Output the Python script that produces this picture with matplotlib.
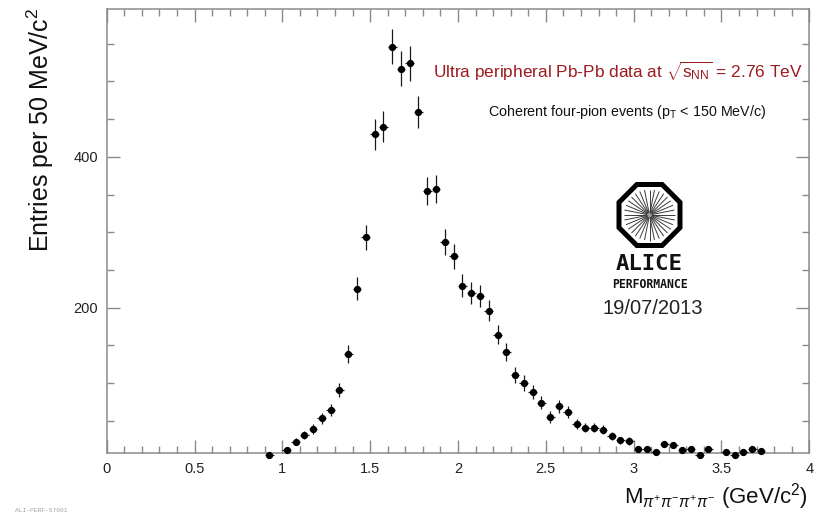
import numpy as np
import matplotlib
matplotlib.use("Agg")
import matplotlib.pyplot as plt
from matplotlib.patches import Polygon, Circle
from matplotlib.ticker import MultipleLocator, FuncFormatter

plt.rcParams['font.family'] = ['Liberation Sans', 'DejaVu Sans']
plt.rcParams['mathtext.fontset'] = 'custom'
plt.rcParams['mathtext.rm'] = 'Liberation Sans'
plt.rcParams['mathtext.it'] = 'Liberation Sans:italic'
plt.rcParams['mathtext.bf'] = 'Liberation Sans:bold'

# Four-pion invariant mass, bin centres (GeV/c^2), 50 MeV bins
mass = [0.925, 1.025, 1.075, 1.125, 1.175, 1.225, 1.275, 1.325, 1.375, 1.425,
        1.475, 1.525, 1.575, 1.625, 1.675, 1.725, 1.775, 1.825, 1.875, 1.925,
        1.975, 2.025, 2.075, 2.125, 2.175, 2.225, 2.275, 2.325, 2.375, 2.425,
        2.475, 2.525, 2.575, 2.625, 2.675, 2.725, 2.775, 2.825, 2.875, 2.925,
        2.975, 3.025, 3.075, 3.125, 3.175, 3.225, 3.275, 3.325, 3.375, 3.425,
        3.525, 3.575, 3.625, 3.675, 3.725]
# Entries per bin
counts = [5, 11, 22, 31, 39, 53, 64, 91, 139, 225,
          293, 430, 440, 546, 517, 524, 459, 355, 357, 287,
          268, 229, 219, 215, 196, 164, 141, 111, 100, 88,
          74, 55, 69, 62, 46, 41, 41, 38, 30, 24,
          23, 13, 13, 8, 19, 18, 11, 12, 5, 12,
          8, 5, 8, 12, 10]
bin_width = 0.05

mass = np.array(mass)
counts = np.array(counts, dtype=float)
yerr = np.sqrt(counts)
xerr = np.full_like(mass, bin_width / 2)

W, H = 819, 515
fig = plt.figure(figsize=(W / 100, H / 100), dpi=100)
ax = fig.add_axes([106.7 / W, 1 - 453.3 / H, (809.3 - 106.7) / W, (453.3 - 9) / H])

ax.errorbar(mass, counts, yerr=yerr, xerr=xerr, fmt='o', color='black',
            ecolor='#1a1a1a', ms=4.2, elinewidth=0.9, capsize=0,
            clip_on=False, zorder=3)

ax.set_xlim(0, 4)
ax.set_ylim(6.8, 596)

frame_col = '#8a8a8a'
for s in ax.spines.values():
    s.set_color(frame_col)
    s.set_linewidth(1.1)

ax.xaxis.set_major_locator(MultipleLocator(0.5))
ax.xaxis.set_minor_locator(MultipleLocator(0.1))
ax.yaxis.set_major_locator(MultipleLocator(200))
ax.yaxis.set_minor_locator(MultipleLocator(50))
ax.xaxis.set_major_formatter(FuncFormatter(lambda v, p: f"{v:g}"))
ax.yaxis.set_major_formatter(FuncFormatter(lambda v, p: f"{v:g}"))

ax.tick_params(which='both', direction='in', top=True, right=True,
               color=frame_col, width=1.0, labelsize=10.5, labelcolor='#222222')
ax.tick_params(which='major', length=9.5, pad=6)
ax.tick_params(which='minor', length=5)

# Axis titles
fig.text(40 / W, 1 - 7 / H, 'Entries per 50 MeV/c$^{2}$', rotation=90,
         ha='center', va='top', fontsize=18, color='#111111')
fig.text(808 / W, 1 - 497 / H,
         r'M$_{\pi^{+}\pi^{-}\pi^{+}\pi^{-}}$ (GeV/c$^{2}$)',
         ha='right', va='center', fontsize=16, color='#111111')

# Annotations
fig.text(618 / W, 1 - 71 / H,
         r'Ultra peripheral Pb-Pb data at $\sqrt{\mathrm{s}_{\mathrm{NN}}}$ = 2.76 TeV',
         ha='center', va='center', fontsize=12.4, color='#9b1b1f')
fig.text(627.5 / W, 1 - 112 / H,
         r'Coherent four-pion events (p$_{\mathrm{T}}$ < 150 MeV/c)',
         ha='center', va='center', fontsize=10.3, color='#111111')

fig.text(15 / W, 1 - 511 / H, 'ALI-PERF-57091', ha='left', va='center',
         fontsize=4.5, family='Liberation Mono', color='#a0a0a0')

# Logo drawn on a pixel-space overlay
ov = fig.add_axes([0, 0, 1, 1], zorder=5)
ov.set_xlim(0, W)
ov.set_ylim(H, 0)
ov.axis('off')

cx, cy = 649.5, 215.0
ang = np.deg2rad(22.5 + 45 * np.arange(8))
def octagon(apothem):
    r = apothem / np.cos(np.deg2rad(22.5))
    return np.column_stack([cx + r * np.cos(ang), cy + r * np.sin(ang)])
ov.add_patch(Polygon(octagon(33), closed=True, facecolor='black', edgecolor='none'))
ov.add_patch(Polygon(octagon(28), closed=True, facecolor='white', edgecolor='none'))
for a in np.linspace(0, 2 * np.pi, 32, endpoint=False):
    ov.plot([cx + 2.5 * np.cos(a), cx + 25.5 * np.cos(a)],
            [cy + 2.5 * np.sin(a), cy + 25.5 * np.sin(a)],
            color='#3a3a3a', lw=0.7, solid_capstyle='butt')
ov.add_patch(Circle((cx, cy), 3.5, facecolor='#9a9a9a', edgecolor='none'))

ov.text(649, 264, 'ALICE', ha='center', va='center', fontsize=16,
        family='DejaVu Sans Mono', weight='bold', color='#111111')
ov.text(649.5, 284, 'PERFORMANCE', ha='center', va='center', fontsize=8.3,
        family='DejaVu Sans Mono', weight='bold', color='#111111')
ov.text(653, 308, '19/07/2013', ha='center', va='center', fontsize=14.5,
        color='#222222')

fig.savefig('out.png', dpi=100)
